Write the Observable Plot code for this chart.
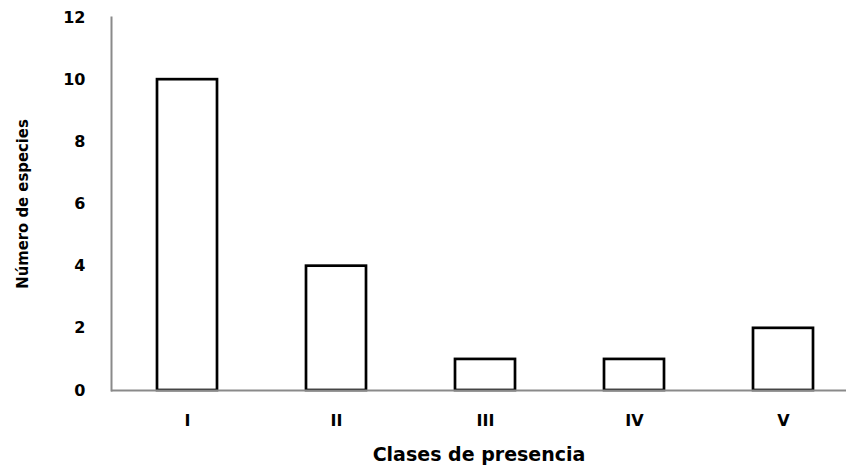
<!DOCTYPE html>
<html><head><meta charset="utf-8">
<script src="https://cdn.jsdelivr.net/npm/d3@7"></script>
<script src="https://cdn.jsdelivr.net/npm/@observablehq/plot@0.6"></script>
<style>body{margin:0;background:#fff}</style>
</head><body><div id="chart"></div>
<script>
const clases = ["I", "II", "III", "IV", "V"];
const especies = [10, 4, 1, 1, 2];
const yTicks = [0, 2, 4, 6, 8, 10, 12];
const data = clases.map((c, i) => ({clase: c, n: especies[i]}));

const chart = Plot.plot({
  width: 846, height: 470,
  marginLeft: 111, marginRight: 0, marginTop: 17, marginBottom: 80,
  style: {fontFamily: "DejaVu Sans", background: "#fff", color: "#000"},
  x: {domain: clases, range: [112, 857], paddingInner: 0.6, paddingOuter: 0.3, axis: null},
  y: {domain: [0, 12], axis: null},
  marks: [
    Plot.frame({anchor: "left", stroke: "#8a8a8a", strokeWidth: 2}),
    Plot.barY(data, {x: "clase", y: "n", fill: "white", stroke: "#000", strokeWidth: 2.7}),
    Plot.ruleY([0], {stroke: "#8a8a8a", strokeWidth: 2}),
    Plot.axisY(yTicks, {tickSize: 0, tickPadding: 26, fontWeight: "bold", fontSize: 16, label: null}),
    Plot.axisX({tickSize: 0, tickPadding: 24, fontWeight: "bold", fontSize: 16, label: null}),
    Plot.text(["Número de especies"], {frameAnchor: "left", textAnchor: "middle", dx: -89, rotate: -90, fontSize: 16.5, fontWeight: "bold", fontFamily: "DejaVu Sans Condensed, DejaVu Sans"}),
    Plot.text(["Clases de presencia"], {frameAnchor: "bottom", dy: 70, fontSize: 19, fontWeight: "bold"})
  ]
});
document.getElementById("chart").append(chart);
</script></body></html>
